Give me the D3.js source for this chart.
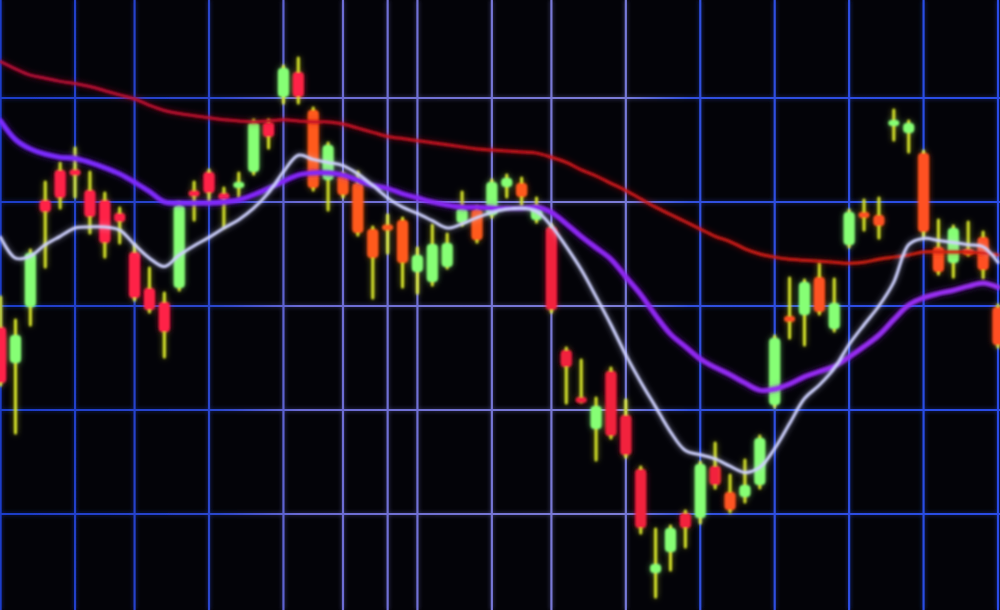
<!DOCTYPE html>
<html>
<head>
<meta charset="utf-8">
<script src="https://cdn.jsdelivr.net/npm/d3@7"></script>
<style>
  html, body { margin: 0; padding: 0; background: #030308; }
  svg { display: block; }
</style>
</head>
<body>
<svg id="chart" width="1000" height="610"></svg>
<script>
// ---------------- DATA ----------------
// Session index for each candle (68 sessions)
const sessions = d3.range(68);

const opens = [117.98,114.52,119.90,130.19,133.08,133.08,131.15,130.19,128.94,125.19,121.73,120.38,121.73,130.96,132.88,130.87,131.35,132.88,137.69,140.10,142.50,138.85,132.12,132.60,131.83,127.40,127.69,128.27,123.27,122.31,123.75,127.98,129.33,128.75,131.44,131.83,128.27,127.60,115.77,111.06,108.17,113.75,109.52,104.33,94.33,96.35,100.10,99.62,104.62,102.12,101.63,102.79,110.48,118.94,119.13,122.79,117.79,125.87,128.85,128.75,137.40,136.63,134.71,125.67,124.13,125.38,126.63,119.90];

const highs = [120.87,118.65,125.38,131.92,133.75,135.19,132.88,130.87,129.42,125.87,123.65,121.25,129.90,131.92,133.08,131.35,132.79,137.88,137.88,143.08,143.85,139.04,135.67,132.79,132.88,127.60,128.75,128.46,125.58,127.79,126.92,130.96,129.52,132.12,132.60,132.31,130.38,127.79,115.96,114.81,111.15,114.04,110.96,104.52,98.56,98.85,100.29,105.00,106.83,103.75,105.19,107.50,117.12,122.69,122.50,124.13,122.60,129.23,130.19,130.38,138.85,137.79,134.90,128.27,127.69,128.08,127.12,120.10];

const lows = [112.40,107.79,118.17,123.75,129.42,130.48,127.02,124.71,126.06,120.58,119.42,115.10,121.54,128.27,130.00,127.60,130.48,132.69,135.19,139.52,139.52,131.15,129.23,130.48,126.83,120.77,125.10,121.83,121.25,122.02,123.65,127.79,126.15,128.56,130.48,129.71,128.08,119.42,110.67,110.77,105.19,107.31,105.48,98.17,92.02,94.62,96.83,99.13,102.50,100.19,101.15,102.50,110.29,116.92,116.25,119.23,117.60,125.67,127.31,126.54,135.96,134.81,126.63,123.08,122.79,124.90,122.69,116.06];

const closes = [112.60,117.21,125.10,129.04,130.38,132.60,128.56,126.06,128.08,120.77,119.62,117.50,129.71,130.67,130.87,130.19,131.92,137.69,136.25,142.88,140.10,131.35,135.48,130.67,127.02,124.62,127.40,124.13,124.90,125.96,126.06,129.42,126.35,131.92,132.31,130.48,129.52,119.62,114.13,110.87,110.38,107.50,105.67,98.65,95.19,98.65,98.65,104.81,102.79,100.38,102.79,107.31,116.92,118.56,122.31,119.42,120.29,129.04,128.65,127.69,137.79,137.60,127.12,123.27,127.50,125.00,123.46,116.25];

// Moving averages (slow / medium / fast)
const maSlow = [143.5,142.8,142.2,141.9,141.6,141.4,141.1,140.7,140.3,139.9,139.3,138.8,138.5,138.3,138.1,137.9,137.8,137.7,137.8,137.9,137.8,137.7,137.7,137.5,137.1,136.7,136.3,136.1,135.9,135.7,135.5,135.3,135.1,135.0,134.9,134.8,134.7,134.3,133.8,133.1,132.5,131.8,131.1,130.3,129.5,128.8,128.1,127.4,126.7,126.2,125.5,125.0,124.7,124.5,124.4,124.3,124.2,124.1,124.2,124.5,124.7,124.9,125.2,125.2,125.2,125.2,125.1,124.9];

const maMid = [137.8,136.0,135.1,134.6,134.3,134.2,133.8,133.3,132.7,131.9,131.0,130.0,129.9,129.9,129.9,130.0,130.2,130.7,131.3,132.0,132.6,132.8,132.8,132.6,132.1,131.6,131.3,130.8,130.4,130.0,129.7,129.5,129.5,129.4,129.4,129.4,129.5,129.0,127.9,126.7,125.6,124.5,122.8,121.1,119.1,117.3,116.1,114.9,114.1,113.4,112.6,111.9,112.0,112.5,113.2,113.7,114.2,115.1,116.1,117.2,118.7,120.1,120.8,121.2,121.5,121.9,122.2,121.8];

const maFast = [126.6,124.6,124.8,125.9,126.7,127.5,127.6,127.6,127.3,125.9,124.6,123.8,124.9,125.8,126.6,127.5,128.3,129.4,130.9,132.9,134.5,134.1,133.8,133.5,132.7,131.6,130.4,129.5,128.9,128.2,127.5,127.9,128.5,129.0,129.3,129.4,129.1,127.7,125.7,123.5,120.9,118.2,115.3,112.7,110.3,107.9,106.1,105.7,105.3,104.6,104.0,104.5,106.3,108.7,111.1,112.4,114.0,116.3,118.2,120.0,122.3,125.9,126.5,126.3,126.1,125.9,125.7,124.2];

// Grid ticks
const priceTicks = [100, 110, 120, 130, 140];
const sessionTicks = [0, 5, 9, 14, 19, 23, 26, 28, 33, 37, 42, 47, 52, 57, 62, 67];

// ---------------- CHART ----------------
const W = 1000, H = 610;
const svg = d3.select("#chart");

const x = d3.scaleLinear().domain([0, 67]).range([0.6, 998]);
const y = d3.scaleLinear().domain([100, 140]).range([514, 98]);

const candles = sessions.map(i => ({
  i, o: opens[i], h: highs[i], l: lows[i], c: closes[i]
}));

const defs = svg.append("defs");

// grid colour gradient (blue at edges, lavender in middle)
const gg = defs.append("linearGradient").attr("id", "gridGrad")
  .attr("gradientUnits", "userSpaceOnUse")
  .attr("x1", 0).attr("y1", 0).attr("x2", W).attr("y2", 0);
[[0, "#1d3cc8"], [0.22, "#2c46cc"], [0.3, "#6a6ad2"], [0.62, "#7c7cd6"], [0.69, "#3050de"], [1, "#2a4ce6"]]
  .forEach(([o, c]) => gg.append("stop").attr("offset", o).attr("stop-color", c));

// down-candle colour (crimson / orange variants across the screen)
const dg = defs.append("linearGradient").attr("id", "downGrad")
  .attr("gradientUnits", "userSpaceOnUse")
  .attr("x1", 0).attr("y1", 0).attr("x2", W).attr("y2", 0);
[[0, "#ff2448"], [0.303, "#ff2246"], [0.306, "#ff5a1e"], [0.537, "#ff5a1e"], [0.541, "#f2203c"], [0.718, "#f2203c"], [0.722, "#ff5420"], [1, "#ff5020"]]
  .forEach(([o, c]) => dg.append("stop").attr("offset", o).attr("stop-color", c));

// slow MA colour
const rg = defs.append("linearGradient").attr("id", "slowGrad")
  .attr("gradientUnits", "userSpaceOnUse")
  .attr("x1", 0).attr("y1", 0).attr("x2", W).attr("y2", 0);
[[0, "#b80c3a"], [0.45, "#c81420"], [1, "#d42412"]]
  .forEach(([o, c]) => rg.append("stop").attr("offset", o).attr("stop-color", c));

// purple MA colour
const pg = defs.append("linearGradient").attr("id", "midGrad")
  .attr("gradientUnits", "userSpaceOnUse")
  .attr("x1", 0).attr("y1", 0).attr("x2", W).attr("y2", 0);
[[0, "#7a2cff"], [0.5, "#8a24f2"], [1, "#9a30f0"]]
  .forEach(([o, c]) => pg.append("stop").attr("offset", o).attr("stop-color", c));

function glow(id, wide, soft, alpha) {
  const f = defs.append("filter").attr("id", id)
    .attr("filterUnits", "userSpaceOnUse")
    .attr("x", -20).attr("y", -20).attr("width", W + 40).attr("height", H + 40);
  f.append("feGaussianBlur").attr("in", "SourceGraphic").attr("stdDeviation", wide).attr("result", "wide");
  f.append("feComponentTransfer").attr("in", "wide").attr("result", "wideA")
    .append("feFuncA").attr("type", "linear").attr("slope", alpha);
  f.append("feGaussianBlur").attr("in", "SourceGraphic").attr("stdDeviation", soft).attr("result", "soft");
  const m = f.append("feMerge");
  m.append("feMergeNode").attr("in", "wideA");
  m.append("feMergeNode").attr("in", "soft");
}
glow("gridGlow", 2.2, 0.7, 0.55);
glow("markGlow", 3, 0.8, 0.55);

svg.append("rect").attr("width", W).attr("height", H).attr("fill", "#030308");

// grid
const grid = svg.append("g").attr("filter", "url(#gridGlow)");
grid.selectAll("line.h").data(priceTicks).join("line")
  .attr("class", "h")
  .attr("x1", 0).attr("x2", W)
  .attr("y1", d => y(d)).attr("y2", d => y(d))
  .attr("stroke", "url(#gridGrad)").attr("stroke-width", 2.2);
grid.selectAll("line.v").data(sessionTicks).join("line")
  .attr("class", "v")
  .attr("x1", d => x(d)).attr("x2", d => x(d))
  .attr("y1", 0).attr("y2", H)
  .attr("stroke", "url(#gridGrad)").attr("stroke-width", 2.2);

// candles
const bodyW = 11;
const minBody = 6;
const cg = svg.append("g").attr("filter", "url(#markGlow)");
cg.selectAll("line.wick").data(candles).join("line")
  .attr("class", "wick")
  .attr("x1", d => x(d.i)).attr("x2", d => x(d.i))
  .attr("y1", d => y(d.h)).attr("y2", d => y(d.l))
  .attr("stroke", "#d6e42c").attr("stroke-width", 3).attr("stroke-linecap", "round");

cg.selectAll("rect.body").data(candles).join("rect")
  .attr("class", "body")
  .attr("x", d => x(d.i) - bodyW / 2)
  .attr("width", bodyW)
  .attr("y", d => {
    const t = y(Math.max(d.o, d.c)), b = y(Math.min(d.o, d.c));
    return b - t < minBody ? (t + b) / 2 - minBody / 2 : t;
  })
  .attr("height", d => Math.max(minBody, Math.abs(y(d.o) - y(d.c))))
  .attr("rx", 4)
  .attr("fill", d => d.c >= d.o ? "#86ff74" : "url(#downGrad)");

// moving averages
const line = d3.line().x((d, i) => x(i)).y(d => y(d)).curve(d3.curveCatmullRom.alpha(0.5));
const lg = svg.append("g").attr("filter", "url(#markGlow)").attr("fill", "none")
  .attr("stroke-linejoin", "round").attr("stroke-linecap", "round");
lg.append("path").datum(maSlow).attr("d", line)
  .attr("stroke", "url(#slowGrad)").attr("stroke-width", 3);
lg.append("path").datum(maMid).attr("d", line)
  .attr("stroke", "url(#midGrad)").attr("stroke-width", 4.8);
lg.append("path").datum(maFast).attr("d", line)
  .attr("stroke", "#cfd2ff").attr("stroke-width", 3);
</script>
</body>
</html>
